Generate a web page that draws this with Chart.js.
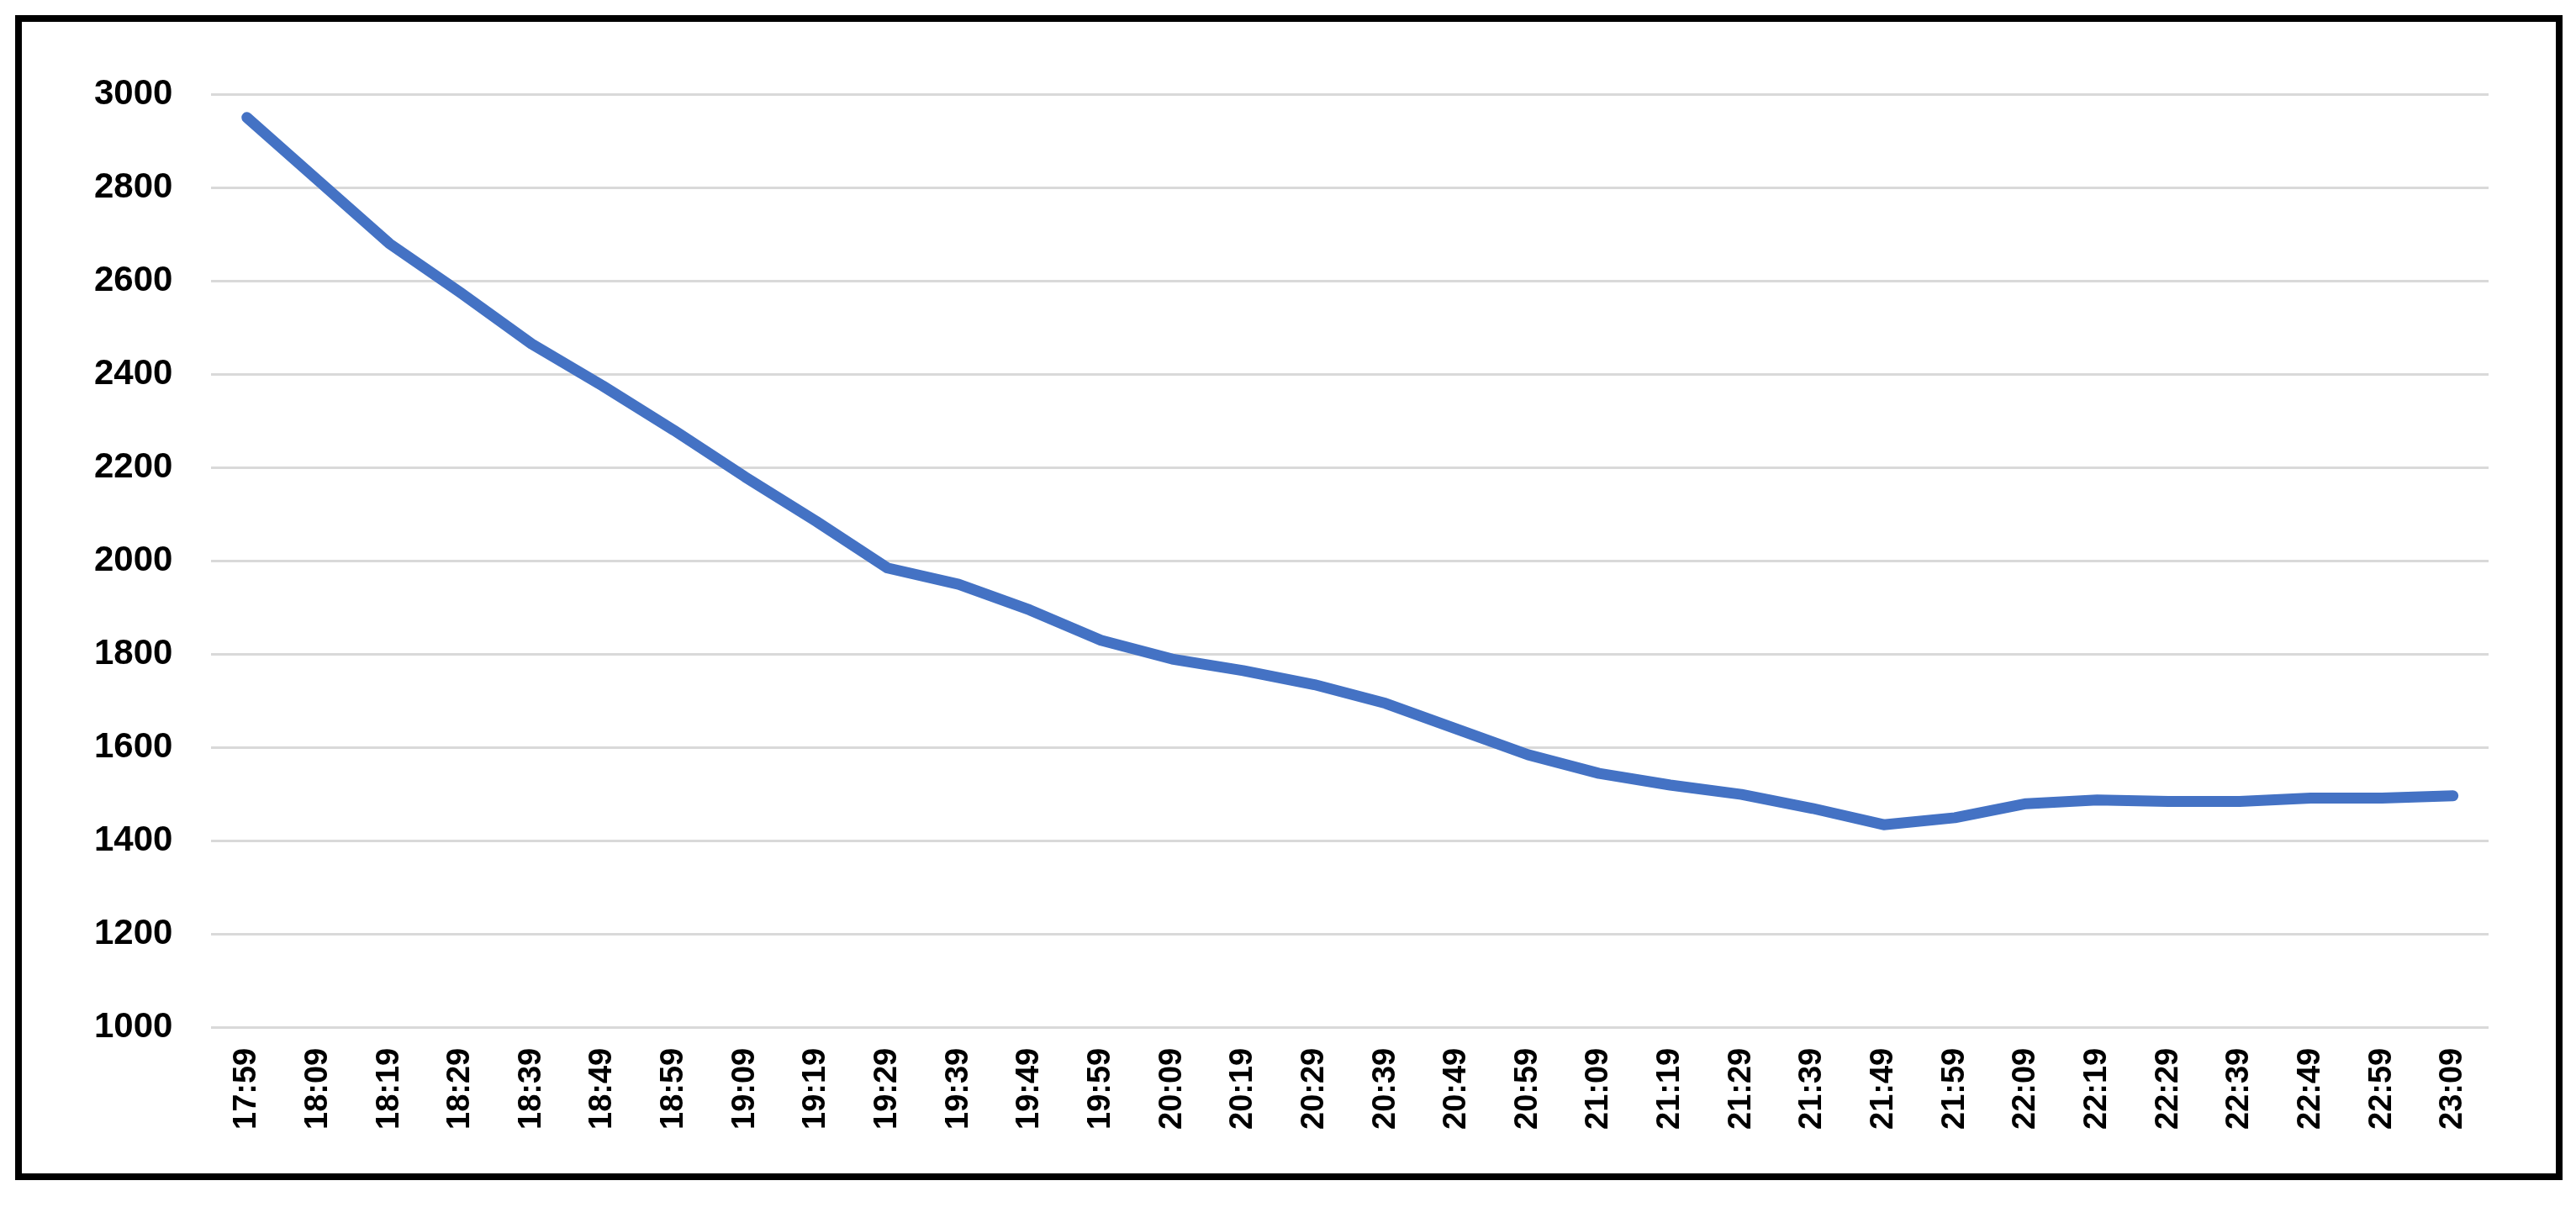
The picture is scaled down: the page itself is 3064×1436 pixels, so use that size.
<!DOCTYPE html>
<html><head><meta charset="utf-8">
<script src="https://cdn.jsdelivr.net/npm/chart.js@4"></script>
<style>
html,body{margin:0;padding:0;background:#fff;width:3064px;height:1436px;overflow:hidden}
#box{position:absolute;left:18px;top:18px;width:3014px;height:1370px;border:8px solid #000;background:#fff}
#c{position:absolute;left:0;top:0}
</style></head><body>
<div id="box"><canvas id="c" width="3014" height="1370"></canvas></div>
<script>
const categories=["17:59","18:09","18:19","18:29","18:39","18:49","18:59","19:09","19:19","19:29","19:39","19:49","19:59","20:09","20:19","20:29","20:39","20:49","20:59","21:09","21:19","21:29","21:39","21:49","21:59","22:09","22:19","22:29","22:39","22:49","22:59","23:09"];
const values=[2950,2815,2680,2575,2465,2375,2280,2180,2085,1985,1950,1895,1830,1790,1765,1735,1695,1640,1585,1545,1520,1500,1470,1435,1450,1480,1488,1485,1485,1492,1492,1497];
const yMin=1000,yMax=3000,yStep=200;
new Chart(document.getElementById('c'),{
 type:'line',
 data:{labels:categories,datasets:[{data:values,borderColor:'#4472C4',borderWidth:13,pointRadius:0,tension:0,fill:false,borderCapStyle:'round',borderJoinStyle:'round'}]},
 options:{responsive:false,animation:false,
  layout:{padding:{left:40,right:80,top:86,bottom:36}},
  plugins:{legend:{display:false},tooltip:{enabled:false}},
  scales:{
   x:{offset:true,grid:{display:false},border:{display:false},
      ticks:{color:'#000',font:{family:'Liberation Sans',weight:'bold',size:38},minRotation:90,maxRotation:90,autoSkip:false,padding:16}},
   y:{min:yMin,max:yMax,grid:{color:'#d9d9d9',lineWidth:3,drawTicks:false},border:{display:false},
      ticks:{stepSize:yStep,color:'#000',font:{family:'Liberation Sans',weight:'bold',size:42},padding:46,callback:v=>String(v)}}
  }}
});
</script></body></html>
